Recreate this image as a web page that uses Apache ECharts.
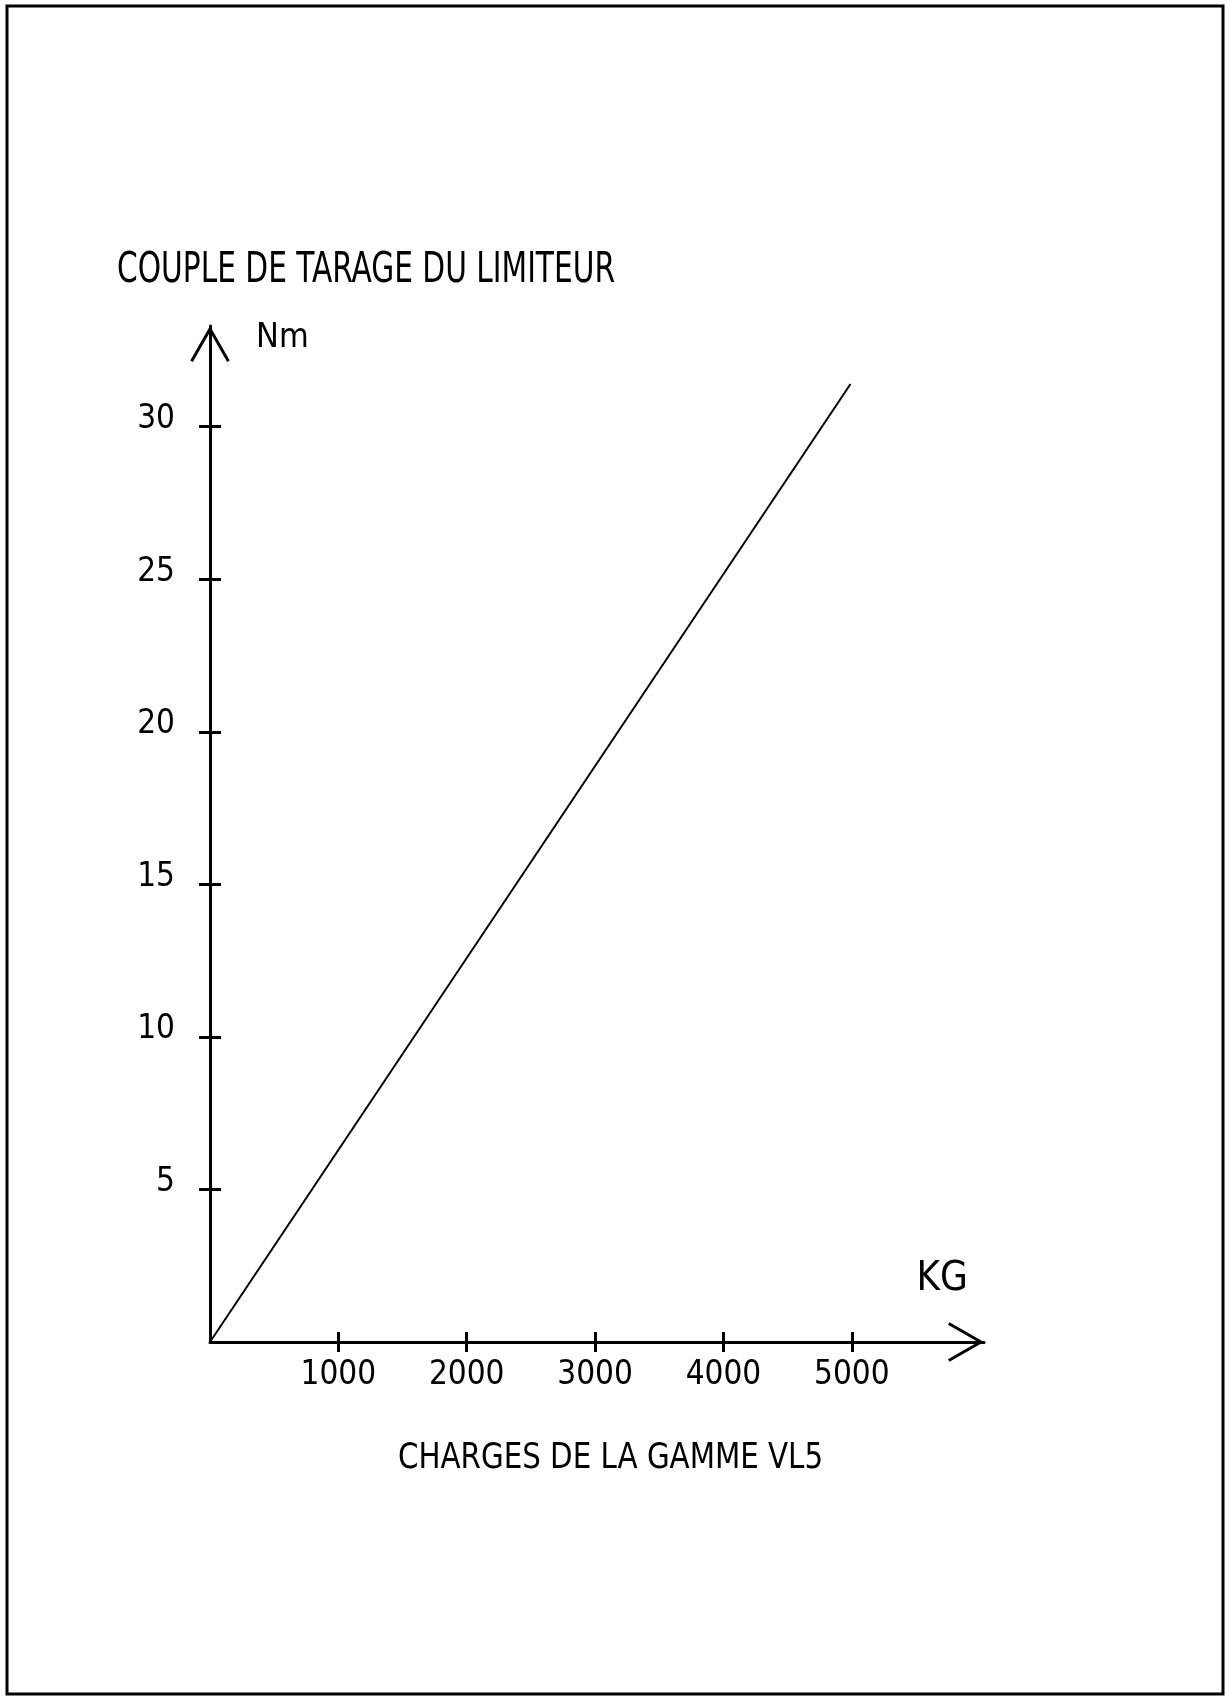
<!DOCTYPE html>
<html>
<head>
<meta charset="utf-8">
<script src="https://cdn.jsdelivr.net/npm/echarts@6/dist/echarts.min.js"></script>
<style>
  html, body { margin: 0; padding: 0; background: #fff; }
  #chart { width: 1225px; height: 1696px; }
</style>
</head>
<body>
<div id="chart"></div>
<script>
// data
const loadKg = [0, 4990];
const torqueNm = [0, 31.4];
const xTicks = [1000, 2000, 3000, 4000, 5000];
const yTicks = [5, 10, 15, 20, 25, 30];

const FONT = "'Liberation Sans Narrow', 'DejaVu Sans Condensed', 'Liberation Sans', sans-serif";
// open V arrow head, pointing up
const ARROW = 'path://M20,0 L40,35 L37.4,36.5 L20,6 L2.6,36.5 L0,35 Z';

const chart = echarts.init(document.getElementById('chart'));

const option = {
  backgroundColor: '#fff',
  animation: false,
  grid: { left: 210, right: 241, top: 326, bottom: 354 },
  graphic: [
    { type: 'rect', shape: { x: 7, y: 6, width: 1216, height: 1688 },
      style: { fill: 'none', stroke: '#000', lineWidth: 3 } },
    { type: 'text', x: 117, y: 271, scaleX: 0.785,
      style: { text: 'COUPLE DE TARAGE DU LIMITEUR', fill: '#000', font: '42px ' + FONT, verticalAlign: 'middle' } },
    { type: 'text', x: 398, y: 1459, scaleX: 0.905,
      style: { text: 'CHARGES DE LA GAMME VL5', fill: '#000', font: '36px ' + FONT, verticalAlign: 'middle' } }
  ],
  xAxis: [
    {
      type: 'value', min: 0, max: 6030,
      name: 'KG', nameLocation: 'end', nameGap: -16,
      nameTextStyle: { color: '#000', fontSize: 40, fontFamily: FONT, align: 'right', verticalAlign: 'bottom', padding: [0, 0, 42, 0] },
      splitLine: { show: false },
      axisLine: { onZero: false, lineStyle: { color: '#000', width: 3 }, symbol: ['none', ARROW], symbolSize: [40, 36], symbolOffset: [0, -18] },
      axisTick: { length: 10, customValues: xTicks, lineStyle: { color: '#000', width: 3 } },
      axisLabel: { customValues: xTicks, formatter: v => String(v), color: '#000', fontSize: 33, lineHeight: 33, fontFamily: FONT, margin: 17, verticalAlign: 'top' }
    },
    {
      type: 'value', min: 0, max: 6030, position: 'bottom',
      splitLine: { show: false },
      axisLine: { show: false, onZero: false },
      axisTick: { inside: true, length: 10, customValues: xTicks, lineStyle: { color: '#000', width: 3 } },
      axisLabel: { show: false }
    }
  ],
  yAxis: [
    {
      type: 'value', min: 0, max: 33.3, position: 'left',
      name: 'Nm', nameLocation: 'end', nameGap: -12,
      nameTextStyle: { color: '#000', fontSize: 34, fontFamily: FONT, align: 'left', verticalAlign: 'middle', padding: [0, 0, 0, 46] },
      splitLine: { show: false },
      axisLine: { onZero: false, lineStyle: { color: '#000', width: 3 }, symbol: ['none', ARROW], symbolSize: [40, 36], symbolOffset: [0, -18] },
      axisTick: { length: 11, customValues: yTicks, lineStyle: { color: '#000', width: 3 } },
      axisLabel: { customValues: yTicks, formatter: v => String(v), color: '#000', fontSize: 33, lineHeight: 14, fontFamily: FONT, margin: 35, align: 'right', verticalAlign: 'bottom' }
    },
    {
      type: 'value', min: 0, max: 33.3, position: 'left',
      splitLine: { show: false },
      axisLine: { show: false, onZero: false },
      axisTick: { inside: true, length: 11, customValues: yTicks, lineStyle: { color: '#000', width: 3 } },
      axisLabel: { show: false }
    }
  ],
  series: [
    {
      type: 'line',
      xAxisIndex: 0,
      yAxisIndex: 0,
      data: loadKg.map((x, i) => [x, torqueNm[i]]),
      showSymbol: false,
      lineStyle: { color: '#000', width: 2 }
    }
  ]
};

chart.setOption(option);
</script>
</body>
</html>
